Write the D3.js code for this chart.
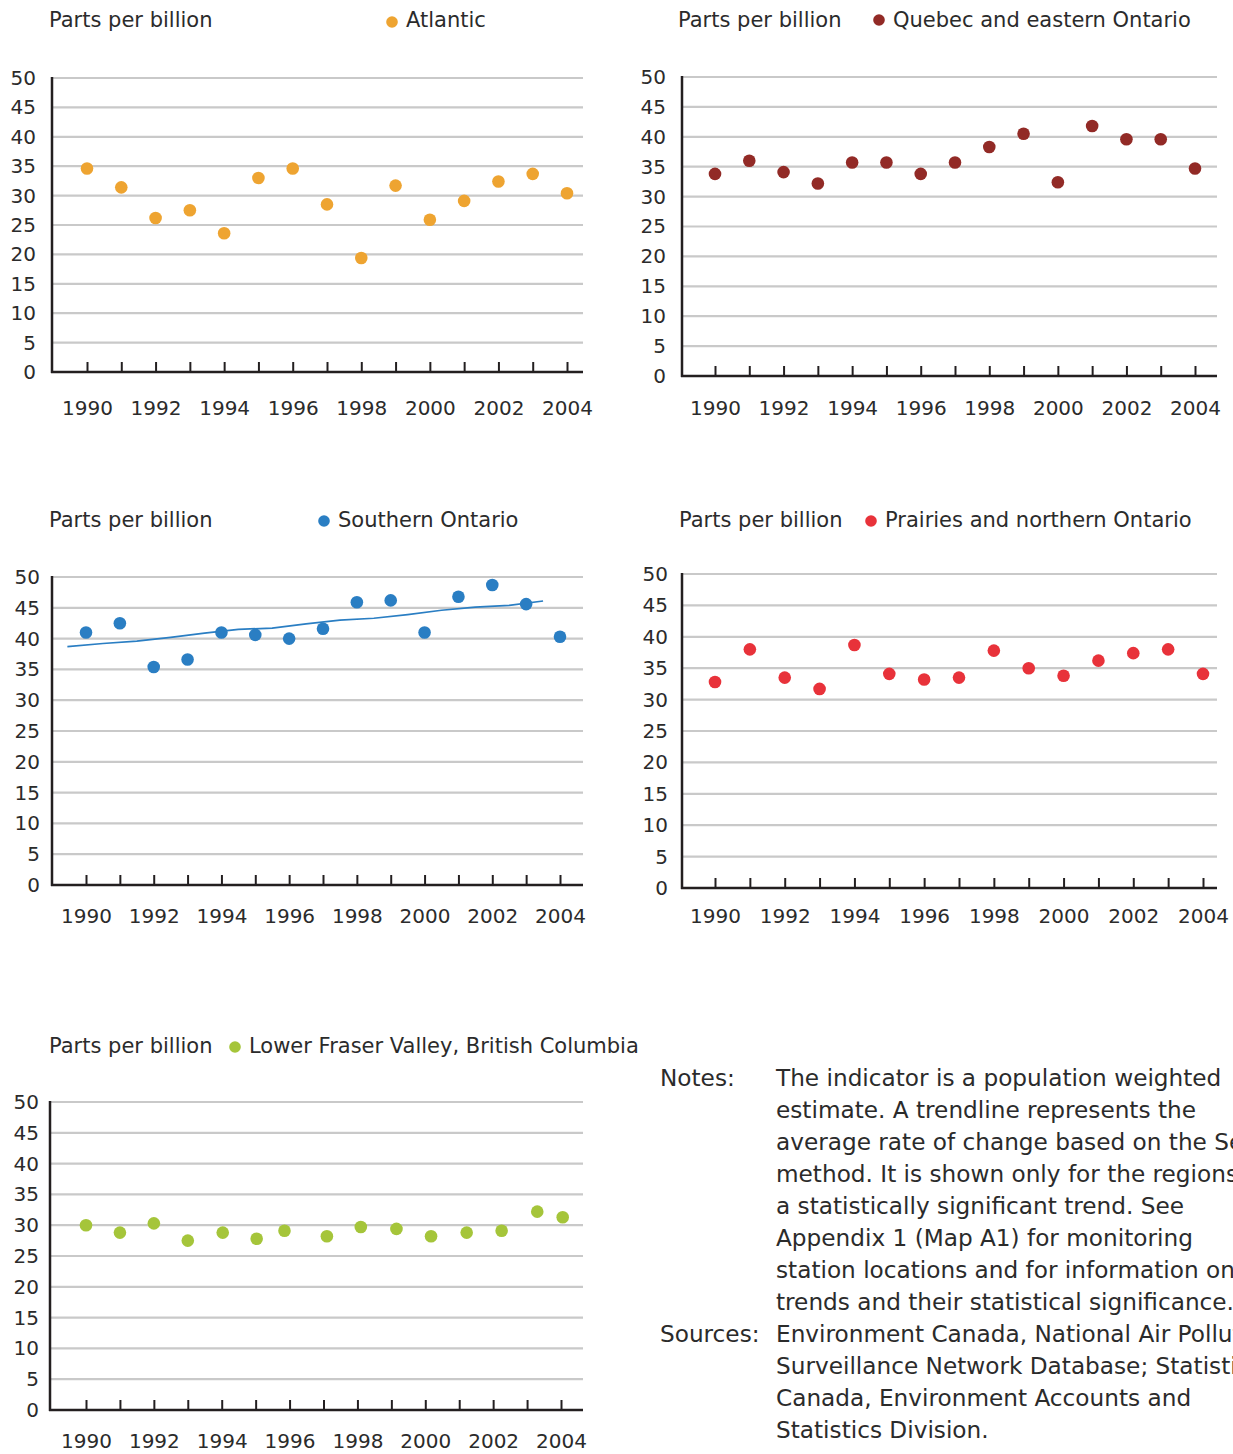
<!DOCTYPE html>
<html>
<head>
<meta charset="utf-8">
<script src="https://cdn.jsdelivr.net/npm/d3@7"></script>
<style>
body { margin: 0; background: #fff; }
svg text { font-family: "DejaVu Sans", sans-serif; fill: #2b2b2b; }
</style>
</head>
<body>
<svg id="chart" width="1233" height="1454"></svg>
<script>
const years = [1990, 1991, 1992, 1993, 1994, 1995, 1996, 1997, 1998, 1999, 2000, 2001, 2002, 2003, 2004];
const xLabels = [1990, 1992, 1994, 1996, 1998, 2000, 2002, 2004];
const yTicks = [0, 5, 10, 15, 20, 25, 30, 35, 40, 45, 50];

const atlantic = [34.6, 31.4, 26.2, 27.5, 23.6, 33.0, 34.6, 28.5, 19.4, 31.7, 25.9, 29.1, 32.4, 33.7, 30.4];
const quebec = [33.8, 36.0, 34.1, 32.2, 35.7, 35.7, 33.8, 35.7, 38.3, 40.5, 32.4, 41.8, 39.6, 39.6, 34.7];
const southern = [41.0, 42.5, 35.4, 36.6, 41.0, 40.6, 40.0, 41.6, 45.9, 46.2, 41.0, 46.8, 48.7, 45.6, 40.3];
const prairies = [32.8, 38.0, 33.5, 31.7, 38.7, 34.1, 33.2, 33.5, 37.8, 35.0, 33.8, 36.2, 37.4, 38.0, 34.1];
const fraser = [30.0, 28.8, 30.3, 27.5, 28.8, 27.8, 29.1, 28.2, 29.7, 29.4, 28.2, 28.8, 29.1, 32.2, 31.3];
// the BC dots sit a little off their year ticks in the source
const fraserPos = [1990, 1991, 1992, 1993, 1994.03, 1995.03, 1995.85, 1997.1, 1998.1, 1999.15, 2000.17, 2001.22, 2002.25, 2003.3, 2004.05];

// trendline for Southern Ontario
const trendYears = [1989.45, 1990.5, 1991.5, 1992.5, 1993.5, 1994.5, 1995.5, 1996.5, 1997.5, 1998.5, 1999.5, 2000.5, 2001.5, 2002.5, 2003.5];
const trendSouthern = [38.7, 39.2, 39.6, 40.2, 40.9, 41.5, 41.7, 42.4, 43.0, 43.3, 43.9, 44.6, 45.1, 45.4, 46.1];

const unitLabel = 'Parts per billion';

const panels = [
    { name: 'Atlantic', values: atlantic, color: '#eea431',
      left: 52, right: 583, top: 78, bottom: 372, x0: 87, x1: 567, labelRight: 36,
      titleX: 49, titleY: 27, dotX: 392, dotY: 22, xPad: 29 },
    { name: 'Quebec and eastern Ontario', values: quebec, color: '#922a26',
      left: 682, right: 1217, top: 77, bottom: 376, x0: 715, x1: 1195, labelRight: 666,
      titleX: 678, titleY: 27, dotX: 879, dotY: 20, xPad: 25 },
    { name: 'Southern Ontario', values: southern, color: '#2a7ec3',
      left: 52, right: 583, top: 577, bottom: 885, x0: 86, x1: 560, labelRight: 40,
      titleX: 49, titleY: 527, dotX: 324, dotY: 521, xPad: 24,
      trend: { x: trendYears, y: trendSouthern } },
    { name: 'Prairies and northern Ontario', values: prairies, color: '#e8323a',
      left: 682, right: 1217, top: 574, bottom: 888, x0: 715, x1: 1203, labelRight: 668,
      titleX: 679, titleY: 527, dotX: 871, dotY: 521, xPad: 21 },
    { name: 'Lower Fraser Valley, British Columbia', values: fraser, pos: fraserPos, color: '#a5c53a',
      left: 50, right: 583, top: 1102, bottom: 1410, x0: 86, x1: 561, labelRight: 39,
      titleX: 49, titleY: 1053, dotX: 235, dotY: 1047, xPad: 24 }
];

const svg = d3.select('#chart');

function drawPanel(p) {
    const g = svg.append('g');
    const x = d3.scaleLinear().domain([1990, 2004]).range([p.x0, p.x1]);
    const y = d3.scaleLinear().domain([0, 50]).range([p.bottom, p.top]);
    const pos = p.pos || years;

    // grid lines
    g.append('g').selectAll('line').data(yTicks.filter(d => d > 0)).join('line')
        .attr('x1', p.left).attr('x2', p.right)
        .attr('y1', d => y(d)).attr('y2', d => y(d))
        .attr('stroke', '#c9c9c9').attr('stroke-width', 2.2);

    // y labels
    const ya = g.append('g').attr('transform', `translate(${p.left},0)`)
        .call(d3.axisLeft(y).tickValues(yTicks).tickSize(0).tickPadding(p.left - p.labelRight));
    ya.select('.domain').remove();
    ya.selectAll('text').attr('font-size', 20).attr('font-family', null).attr('fill', '#2b2b2b');

    // x axis
    const xa = g.append('g').attr('transform', `translate(0,${p.bottom})`)
        .call(d3.axisBottom(x).tickValues(years).tickSize(-10).tickPadding(p.xPad)
            .tickFormat(d => xLabels.includes(d) ? d : ''));
    xa.select('.domain').remove();
    xa.selectAll('line').attr('stroke', '#231f20').attr('stroke-width', 2);
    xa.selectAll('text').attr('font-size', 20).attr('font-family', null).attr('fill', '#2b2b2b');

    // axis lines
    g.append('line').attr('x1', p.left).attr('x2', p.left).attr('y1', p.top - 1).attr('y2', p.bottom + 1)
        .attr('stroke', '#231f20').attr('stroke-width', 2.5);
    g.append('line').attr('x1', p.left - 1).attr('x2', p.right).attr('y1', p.bottom).attr('y2', p.bottom)
        .attr('stroke', '#231f20').attr('stroke-width', 2.5);

    // trendline
    if (p.trend) {
        const line = d3.line().x(d => x(d[0])).y(d => y(d[1]));
        g.append('path').datum(d3.zip(p.trend.x, p.trend.y))
            .attr('d', line).attr('fill', 'none')
            .attr('stroke', p.color).attr('stroke-width', 1.7);
    }

    // dots
    g.append('g').selectAll('circle').data(p.values).join('circle')
        .attr('cx', (d, i) => x(pos[i])).attr('cy', d => y(d))
        .attr('r', 6.3).attr('fill', p.color);

    // header
    g.append('text').attr('x', p.titleX).attr('y', p.titleY).attr('font-size', 21).text(unitLabel);
    g.append('circle').attr('cx', p.dotX).attr('cy', p.dotY).attr('r', 5.8).attr('fill', p.color);
    g.append('text').attr('x', p.dotX + 14).attr('y', p.titleY).attr('font-size', 21).text(p.name);
}

panels.forEach(drawPanel);

// notes (the source page cuts the right end of some lines)
const notesLines = [
    'The indicator is a population weighted',
    'estimate. A trendline represents the',
    'average rate of change based on the Sen',
    'method. It is shown only for the regions with',
    'a statistically significant trend. See',
    'Appendix 1 (Map A1) for monitoring',
    'station locations and for information on',
    'trends and their statistical significance.'
];
const sourcesLines = [
    'Environment Canada, National Air Pollution',
    'Surveillance Network Database; Statistics',
    'Canada, Environment Accounts and',
    'Statistics Division.'
];

const notes = svg.append('g').attr('font-size', 23.2);
notes.append('text').attr('x', 660).attr('y', 1086).text('Notes:');
notes.append('text').attr('x', 660).attr('y', 1086 + notesLines.length * 32).text('Sources:');
notes.selectAll('text.body').data(notesLines.concat(sourcesLines)).join('text')
    .attr('class', 'body')
    .attr('x', 776).attr('y', (d, i) => 1086 + i * 32).text(d => d);
</script>
</body>
</html>
